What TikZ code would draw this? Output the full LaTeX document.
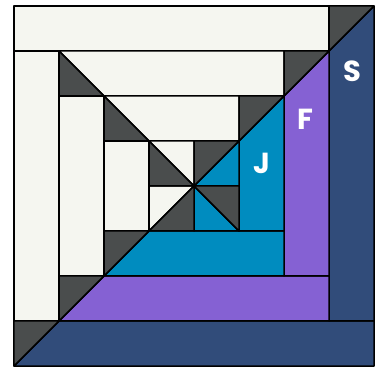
\documentclass[tikz,border=0pt]{standalone}
\usepackage{fontspec}
\newfontfamily\labfont{Poppins}
\definecolor{cr}{HTML}{F5F6F0}
\definecolor{dk}{HTML}{4A4D4D}
\definecolor{nv}{HTML}{314C7A}
\definecolor{pu}{HTML}{8561D3}
\definecolor{bl}{HTML}{008CBF}
\tikzset{
  piece/.style={draw=black, line width=1.5pt, line join=round},
  crp/.style={piece, fill=cr},
  dkp/.style={piece, fill=dk},
  nvp/.style={piece, fill=nv},
  pup/.style={piece, fill=pu},
  blp/.style={piece, fill=bl},
  lab/.style={text=white, font=\labfont\bfseries\fontsize{29}{29}\selectfont, inner sep=0pt}
}
\begin{document}
\begin{tikzpicture}[x=45pt,y=45pt]
\useasboundingbox (-14/45,0) rectangle (8+8/45,8+6/45);
% cream
\path[crp] (0,7) rectangle (7,8);
\path[crp] (0,1) rectangle (1,7);
\path[crp] (1,7)--(6,7)--(6,6)--(2,6)--cycle;
\path[crp] (1,2) rectangle (2,6);
\path[crp] (2,6)--(5,6)--(5,5)--(3,5)--cycle;
\path[crp] (2,3) rectangle (3,5);
\path[crp] (3,5)--(4,5)--(4,4)--cycle;
\path[crp] (3,4)--(4,4)--(3,3)--cycle;
% navy
\path[nvp] (0,0)--(8,0)--(8,1)--(1,1)--cycle;
\path[nvp] (7,1)--(8,1)--(8,8)--(7,7)--cycle;
% purple
\path[pup] (1,1)--(7,1)--(7,2)--(2,2)--cycle;
\path[pup] (6,2)--(7,2)--(7,7)--(6,6)--cycle;
% blue
\path[blp] (2,2)--(6,2)--(6,3)--(3,3)--cycle;
\path[blp] (5,3)--(6,3)--(6,6)--(5,5)--cycle;
\path[blp] (4,4)--(5,5)--(5,4)--cycle;
\path[blp] (4,4)--(5,3)--(4,3)--cycle;
% dark triangles
\path[dkp] (7,7)--(7,8)--(8,8)--cycle;
\path[dkp] (6,6)--(6,7)--(7,7)--cycle;
\path[dkp] (5,5)--(5,6)--(6,6)--cycle;
\path[dkp] (0,0)--(0,1)--(1,1)--cycle;
\path[dkp] (1,1)--(1,2)--(2,2)--cycle;
\path[dkp] (2,2)--(2,3)--(3,3)--cycle;
\path[dkp] (1,7)--(1,6)--(2,6)--cycle;
\path[dkp] (2,6)--(2,5)--(3,5)--cycle;
\path[dkp] (3,5)--(3,4)--(4,4)--cycle;
\path[dkp] (4,4)--(4,5)--(5,5)--cycle;
\path[dkp] (3,3)--(4,4)--(4,3)--cycle;
\path[dkp] (4,4)--(5,4)--(5,3)--cycle;
% labels
\node[lab] (s) at (7.53,6.56) {S};
\node[lab] (f) at (6.48,5.49) {F};
\node[lab] (j) at (5.51,4.51) {J};
\end{tikzpicture}
\end{document}
